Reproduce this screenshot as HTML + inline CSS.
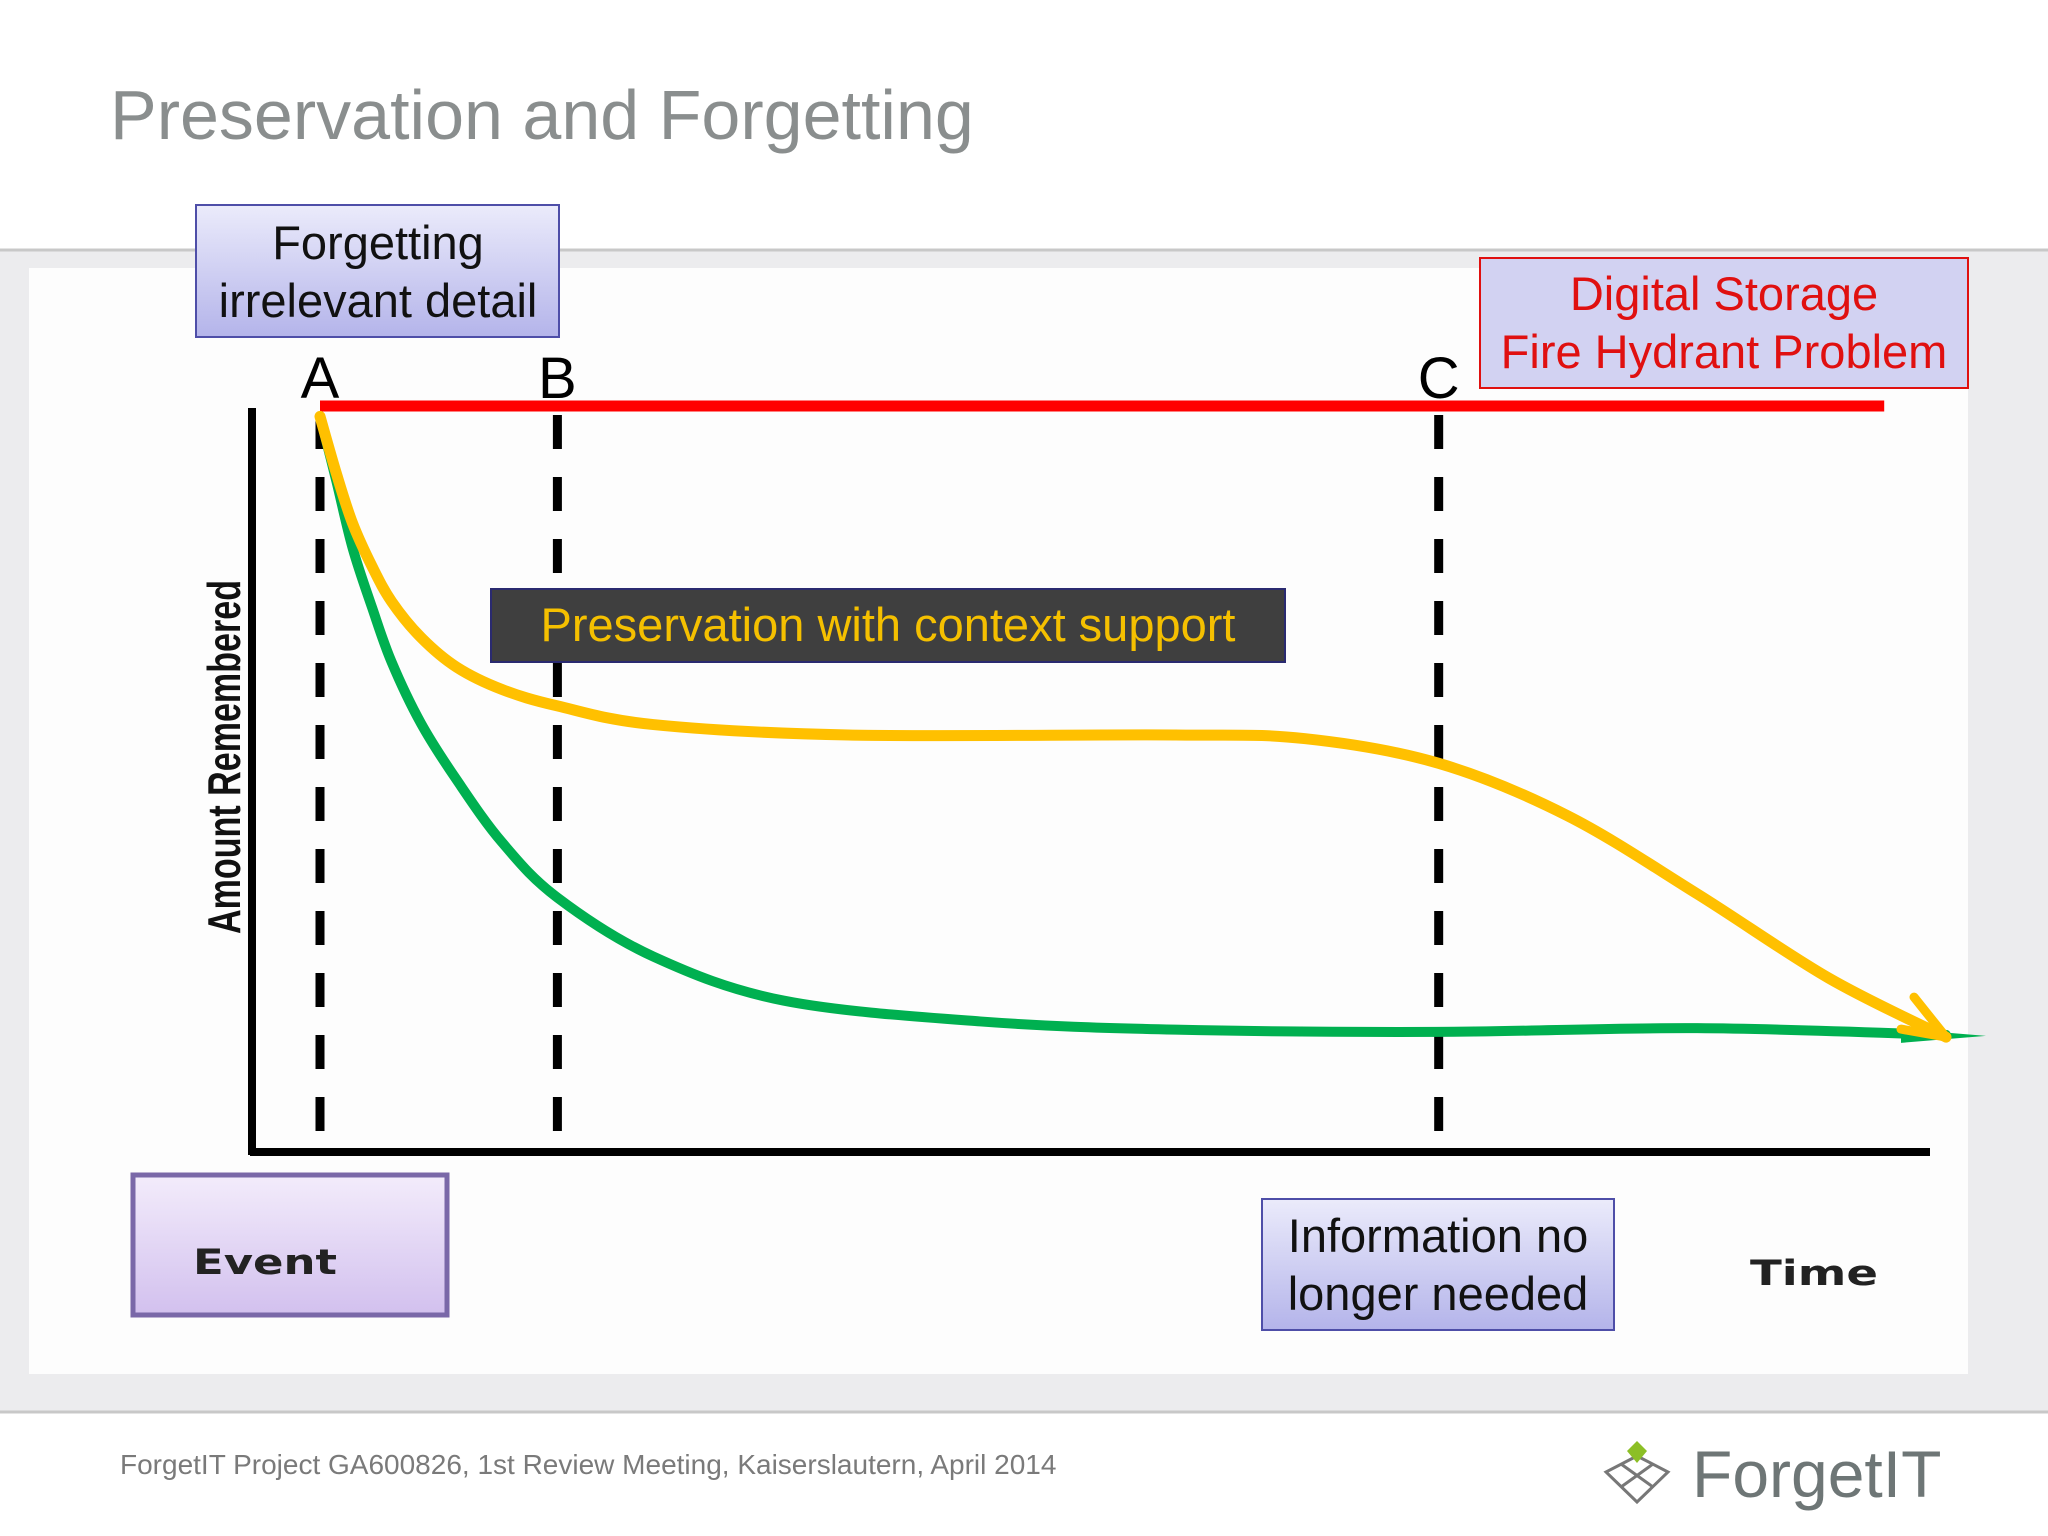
<!DOCTYPE html>
<html><head><meta charset="utf-8">
<style>
body{margin:0;width:2048px;height:1536px;overflow:hidden;background:#fff;font-family:"Liberation Sans",sans-serif;}
svg{display:block}
</style></head>
<body>
<svg id="chart" width="2048" height="1536" viewBox="0 0 2048 1536" xmlns="http://www.w3.org/2000/svg">
<defs>
<linearGradient id="lav" x1="0" y1="0" x2="0" y2="1"><stop offset="0" stop-color="#ebebfb"/><stop offset="1" stop-color="#b4b4ea"/></linearGradient>
<linearGradient id="evt" x1="0" y1="0" x2="0" y2="1"><stop offset="0" stop-color="#f3ecfb"/><stop offset="1" stop-color="#d2c0ee"/></linearGradient>
</defs>
<rect x="0" y="0" width="2048" height="250" fill="#fff"/>
<text x="110" y="139" font-size="70" fill="#8a8e8e">Preservation and Forgetting</text>
<rect x="0" y="250" width="2048" height="1162" fill="#ececee"/>
<line x1="0" y1="250" x2="2048" y2="250" stroke="#c8c8c8" stroke-width="3"/>
<rect x="29" y="268" width="1939" height="1106" fill="#fdfdfd"/>
<rect x="0" y="1412" width="2048" height="124" fill="#fff"/>
<line x1="0" y1="1412" x2="2048" y2="1412" stroke="#c8c8c8" stroke-width="3"/>
<text x="120" y="1474" font-size="28" fill="#7a7a7a">ForgetIT Project GA600826, 1st Review Meeting, Kaiserslautern, April 2014</text>
<g>
<g stroke="#777" stroke-width="3" fill="none">
<path d="M1637 1456 L1668 1472 L1637 1502 L1606 1472 Z"/>
<path d="M1621 1464 L1653 1487 M1653 1464 L1621 1487"/>
</g>
<path d="M1637 1441 L1647 1451 L1637 1463 L1627 1451 Z" fill="#8cbf26"/>
<text x="1692" y="1497" font-size="66" fill="#6e7676">ForgetIT</text>
</g>
<g id="plot"></g>
<g>
<rect x="196" y="205" width="363" height="132" fill="url(#lav)" stroke="#4e4ea8" stroke-width="2"/>
<text x="378" y="259" font-size="47" text-anchor="middle" fill="#111">Forgetting</text>
<text x="378" y="317" font-size="47" text-anchor="middle" fill="#111">irrelevant detail</text>
</g>
<g>
<rect x="1480" y="258" width="488" height="130" fill="#d2d2f2" stroke="#e01010" stroke-width="2"/>
<text x="1724" y="310" font-size="47" text-anchor="middle" fill="#e01010">Digital Storage</text>
<text x="1724" y="368" font-size="47" text-anchor="middle" fill="#e01010">Fire Hydrant Problem</text>
</g>
<g>
<rect x="491" y="589" width="794" height="73" fill="#3f3f3f" stroke="#2a2a70" stroke-width="2"/>
<text x="888" y="641" font-size="47" text-anchor="middle" fill="#f5c000">Preservation with context support</text>
</g>
<g>
<rect x="133" y="1175" width="314" height="140" fill="url(#evt)" stroke="#7a68a8" stroke-width="5"/>
<text x="193" y="1274" font-family="'DejaVu Sans',sans-serif" font-size="35" font-weight="bold" textLength="144" lengthAdjust="spacingAndGlyphs" fill="#222">Event</text>
</g>
<g>
<rect x="1262" y="1199" width="352" height="131" fill="url(#lav)" stroke="#4e4ea8" stroke-width="2"/>
<text x="1438" y="1252" font-size="47" text-anchor="middle" fill="#111">Information no</text>
<text x="1438" y="1310" font-size="47" text-anchor="middle" fill="#111">longer needed</text>
</g>
<text x="1750" y="1285" font-family="'DejaVu Sans',sans-serif" font-size="35" font-weight="bold" textLength="128" lengthAdjust="spacingAndGlyphs" fill="#222">Time</text>
<text transform="translate(240,757) rotate(-90)" font-size="46" font-weight="bold" text-anchor="middle" fill="#111" textLength="354" lengthAdjust="spacingAndGlyphs">Amount Remembered</text>
</svg>
<script>
const markerLabels = ["A","B","C"];
const markerTimes = [0, 14.6, 68.8];
const yellowT = [0,1.0,2.0,3.2,4.4,6.2,8.4,11.2,14.6,20.5,32.5,52.6,60.6,68.8,76.7,84.7,92.8,100];
const yellowV = [98.6,91,84.3,78.5,73.8,69,65.0,62,59.8,57.3,55.9,55.9,55.4,52.1,45.1,34.6,23.3,15.4];
const greenT = [0,1.0,2.0,3.2,4.4,6.2,8.4,11.2,14.6,20.5,28.5,40.6,52.6,68.7,84.7,100];
const greenV = [98.6,90,81,73,65.7,57.5,49.9,41.5,34.1,26.2,20.3,17.5,16.4,16.1,16.6,15.7];
const redT = [0, 96.2];
const redV = [100, 100];

const NS="http://www.w3.org/2000/svg";
const plot=document.getElementById('plot');
const xS=t=>320+t*(1946-320)/100;
const yS=v=>1152-v*(1152-406)/100;
function mk(tag,attrs){const e=document.createElementNS(NS,tag);for(const k in attrs)e.setAttribute(k,attrs[k]);plot.appendChild(e);return e;}
function smooth(ts,vs){const p=ts.map((t,i)=>[xS(t),yS(vs[i])]);let d=`M${p[0][0]},${p[0][1]}`;
 for(let i=0;i<p.length-1;i++){const p0=p[i-1]||p[i],p1=p[i],p2=p[i+1],p3=p[i+2]||p2;
  d+=` C${p1[0]+(p2[0]-p0[0])/6},${p1[1]+(p2[1]-p0[1])/6} ${p2[0]-(p3[0]-p1[0])/6},${p2[1]-(p3[1]-p1[1])/6} ${p2[0]},${p2[1]}`;}return d;}

const ya=mk('line',{x1:252,y1:408,x2:252,y2:1155,stroke:'#000','stroke-width':8});


const xa=mk('line',{x1:250,y1:1152,x2:1930,y2:1152,stroke:'#000','stroke-width':8});



markerTimes.forEach((t,i)=>{
 const l=mk('line',{x1:xS(t),y1:415,x2:xS(t),y2:1149,stroke:'#000','stroke-width':9,'stroke-dasharray':'34 28'});
 
 
 const tx=mk('text',{x:xS(t),y:398,'font-size':58,'text-anchor':'middle',fill:'#000'});
 tx.textContent=markerLabels[i];
 
 
});

const red=mk('line',{x1:xS(redT[0]),y1:yS(redV[0]),x2:xS(redT[1]),y2:yS(redV[1]),stroke:'#ff0000','stroke-width':11});



const g=mk('path',{d:smooth(greenT,greenV),fill:'none',stroke:'#00b050','stroke-width':10,'stroke-linecap':'round'});


const gx=xS(greenT[greenT.length-1]),gy=yS(greenV[greenV.length-1]);
const ga=mk('path',{d:`M${gx-45},${gy-6} L${gx+40},${gy+1} L${gx-45},${gy+8} Z`,fill:'#00b050'});



const y=mk('path',{d:smooth(yellowT,yellowV),fill:'none',stroke:'#ffc000','stroke-width':11,'stroke-linecap':'round'});


const yx=xS(yellowT[yellowT.length-1]),yy=yS(yellowV[yellowV.length-1]);
const ya2=mk('path',{d:`M${yx-32},${yy-40} L${yx},${yy} L${yx-45},${yy-8}`,fill:'none',stroke:'#ffc000','stroke-width':9,'stroke-linecap':'round','stroke-linejoin':'round'});


</script>
</body></html>
